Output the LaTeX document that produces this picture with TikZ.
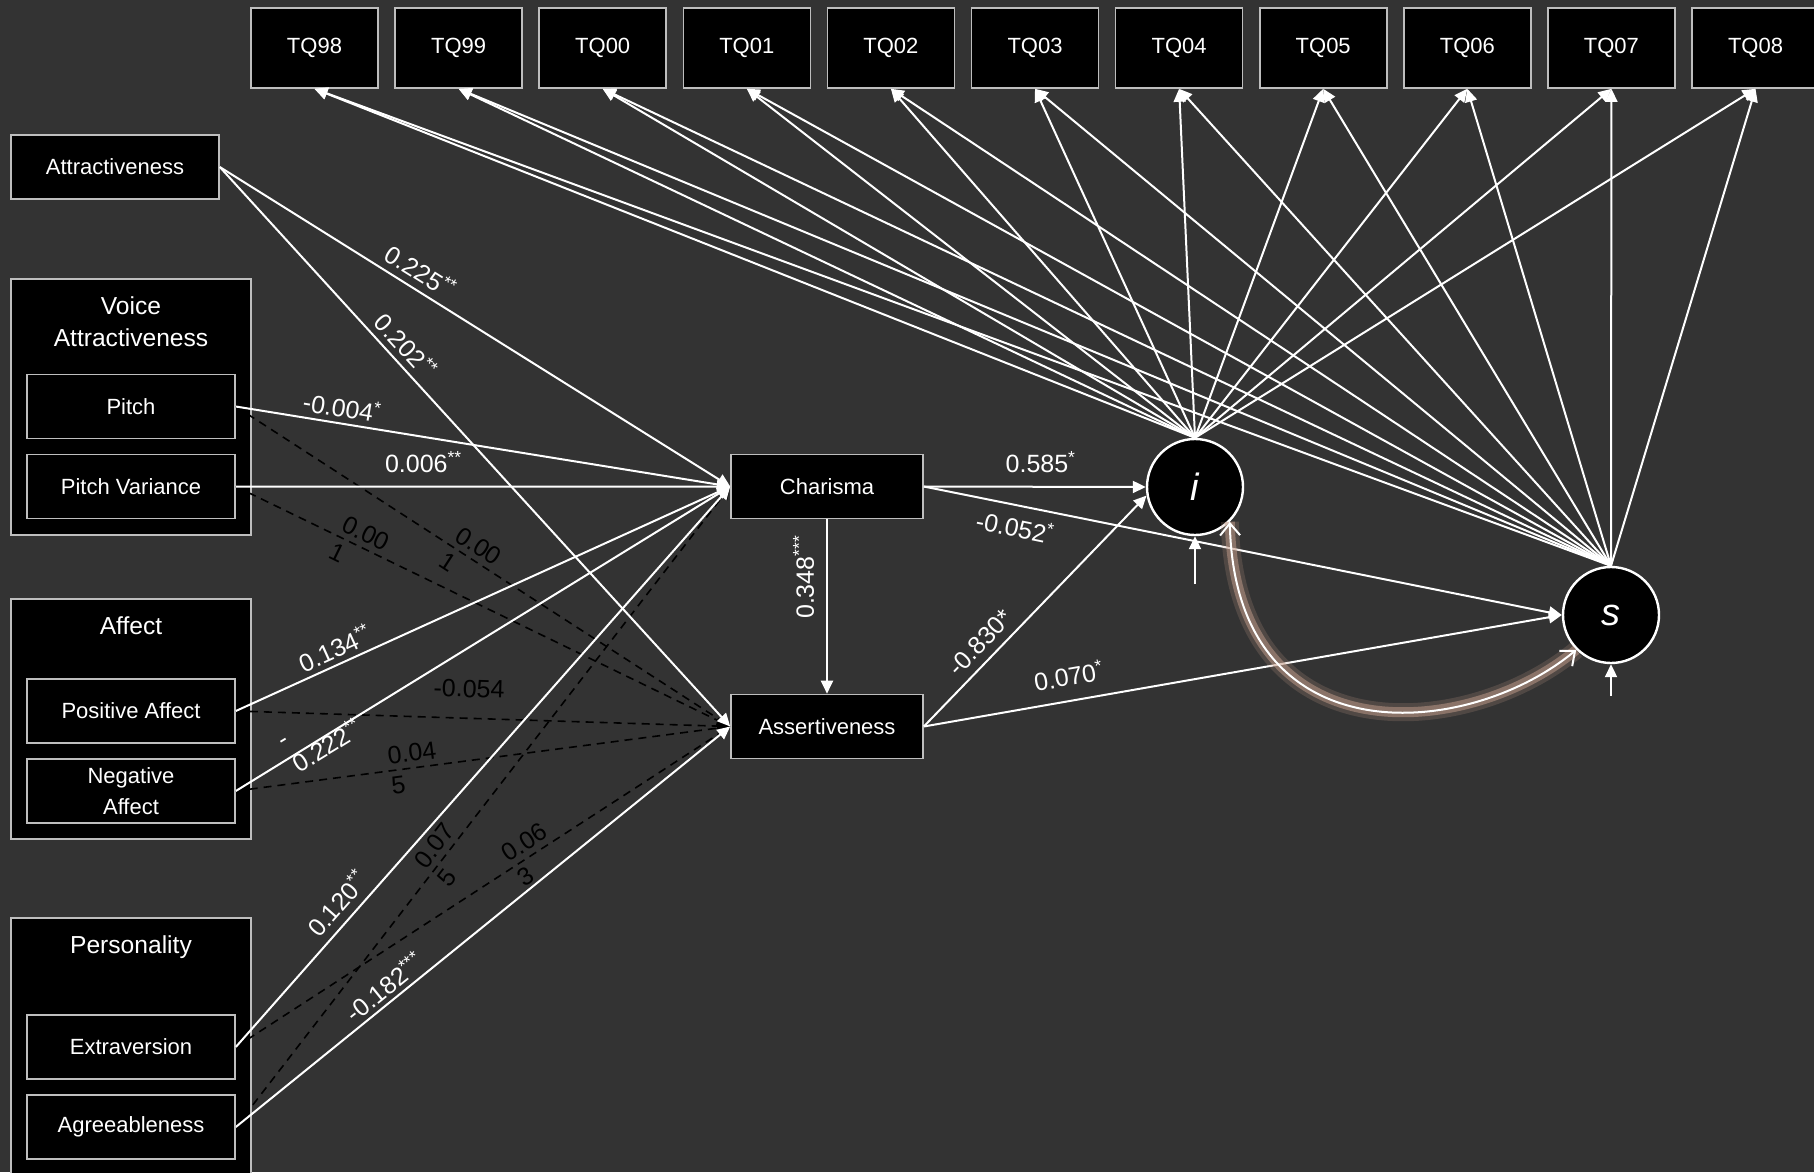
\documentclass[tikz,border=0pt]{standalone}
\usepackage{fontspec}
\setmainfont{Liberation Sans}
\usetikzlibrary{positioning,arrows.meta}

\definecolor{bgc}{RGB}{51,51,51}
\definecolor{framec}{RGB}{190,190,190}
\definecolor{glowc}{RGB}{196,158,140}

\newcommand{\stars}[1]{\textsuperscript{#1}}

\tikzset{
  box/.style={draw=framec, fill=black, text=white, line width=0.8pt,
    minimum width=104pt, minimum height=32pt, inner sep=0pt, align=center,
    font=\fontsize{11}{15.5}\selectfont},
  tq/.style={box, minimum width=63.5pt, minimum height=40pt},
  group/.style={draw=framec, fill=black, line width=0.8pt, minimum width=120pt, inner sep=0pt},
  grouptitle/.style={text=white, align=center, font=\fontsize{12.3}{16}\selectfont},
  latent/.style={circle, draw=white, fill=black, text=white, line width=1.2pt,
    minimum size=48pt, inner sep=0pt, font=\fontsize{19}{19}\selectfont\itshape},
  conn/.style={draw=white, line width=1pt, -{Triangle[length=6.5pt,width=6pt]}},
  nconn/.style={draw=black, line width=0.8pt, dash pattern=on 4pt off 3pt,
    -{Triangle[length=6.5pt,width=6pt]}},
  coef/.style={text=white, sloped, inner sep=2pt, font=\fontsize{12.5}{15}\selectfont},
  ncoef/.style={coef, text=black, align=left},
  vcoef/.style={text=white, rotate=90, anchor=south, inner sep=6pt,
    font=\fontsize{12.5}{15}\selectfont},
}

\begin{document}
\begin{tikzpicture}[x=0.5pt,y=-0.5pt]
  \fill [bgc] (0,0) rectangle (1814,1172);
  \useasboundingbox (0,0) rectangle (1814,1172);

  % indicators
  \node (tq98) [tq] at (314.5,48) {TQ98};
  \node (tq99) [tq] [right=7.75pt of tq98] {TQ99};
  \node (tq00) [tq] [right=7.75pt of tq99] {TQ00};
  \node (tq01) [tq] [right=7.75pt of tq00] {TQ01};
  \node (tq02) [tq] [right=7.75pt of tq01] {TQ02};
  \node (tq03) [tq] [right=7.75pt of tq02] {TQ03};
  \node (tq04) [tq] [right=7.75pt of tq03] {TQ04};
  \node (tq05) [tq] [right=7.75pt of tq04] {TQ05};
  \node (tq06) [tq] [right=7.75pt of tq05] {TQ06};
  \node (tq07) [tq] [right=7.75pt of tq06] {TQ07};
  \node (tq08) [tq] [right=7.75pt of tq07] {TQ08};

  \node (i) [latent] at (1195,487) {i};
  \node (s) [latent] at (1611,615) {s};
  \coordinate [below=24pt of i] (ei);
  \coordinate [below=16pt of s] (es);

  \node (charisma) [box, minimum width=96pt] at (827,486.5) {Charisma};
  \node (assert) [box, minimum width=96pt] [below=87.2pt of charisma] {Assertiveness};

  % predictors
  \node (attr) [box] at (115,167) {Attractiveness};

  \node (voice) [group, minimum height=128pt] at (131,407) {};
  \node (voicetitle) [grouptitle] at (131,322) {Voice\\Attractiveness};
  \node (pitch) [box] at (131,406.5) {Pitch};
  \node (pv) [box] [below=7.2pt of pitch] {Pitch Variance};

  \node (affect) [group, minimum height=120pt] at (131,719) {};
  \node (affecttitle) [grouptitle] at (131,626) {Affect};
  \node (posaff) [box] at (131,711) {Positive Affect};
  \node (negaff) [box] [below=7.2pt of posaff] {Negative\\Affect};

  \node (pers) [group, minimum height=131pt] at (131,1049) {};
  \node (perstitle) [grouptitle] at (131,947) {Personality};
  \node (extra) [box] at (131,1047) {Extraversion};
  \node (agree) [box] [below=7.2pt of extra] {Agreeableness};

  % loadings
  \path (i.north) edge [conn] (tq98.south) edge [conn] (tq99.south)
    edge [conn] (tq00.south) edge [conn] (tq01.south) edge [conn] (tq02.south)
    edge [conn] (tq03.south) edge [conn] (tq04.south) edge [conn] (tq05.south)
    edge [conn] (tq06.south) edge [conn] (tq07.south) edge [conn] (tq08.south);
  \path (s.north) edge [conn] (tq98.south) edge [conn] (tq99.south)
    edge [conn] (tq00.south) edge [conn] (tq01.south) edge [conn] (tq02.south)
    edge [conn] (tq03.south) edge [conn] (tq04.south) edge [conn] (tq05.south)
    edge [conn] (tq06.south) edge [conn] (tq07.south) edge [conn] (tq08.south);

  % n.s. paths
  \path (pitch.east) edge [nconn] node [ncoef, pos=.475] {0.00\\1} (assert.west);
  \path (pv.east) edge [nconn] node [ncoef, pos=.25] {0.00\\1} (assert.west);
  \path (posaff.east) edge [nconn] node [ncoef, above=8pt, pos=.47] {-0.054} (assert.west);
  \path (negaff.east) edge [nconn] node [ncoef, pos=.36] {0.04\\5} (assert.west);
  \path (extra.east) edge [nconn] node [ncoef, pos=.6] {0.06\\3} (assert.west);
  \path (agree.east) edge [nconn] node [ncoef, pos=.425] {0.07\\5} (charisma.west);

  \path (attr.east) edge [conn] node [coef, above=1.5pt, pos=.375] {0.225\stars{**}} (charisma.west)
    edge [conn] node [coef, above=1pt, pos=.34] {0.202\stars{**}} (assert.west);
  \path (pitch.east) edge [conn] node [coef, above=.5pt, pos=.21] {-0.004\stars{*}} (charisma.west);
  \path (pv.east) edge [conn] node [coef, above=4.5pt, pos=.38] {0.006\stars{**}} (charisma.west);
  \path (posaff.east) edge [conn] node [coef, above=.5pt, pos=.214] {0.134\stars{**}} (charisma.west);
  \path (negaff.east) edge [conn] node [coef, align=left, pos=.175] {-\\0.222\stars{**}} (charisma.west);
  \path (extra.east) edge [conn] node [coef, above=2pt, pos=.234] {0.120\stars{**}} (charisma.west);
  \path (agree.east) edge [conn] node [coef, above, pos=.32] {-0.182\stars{***}} (assert.west);

  \path (charisma.east) edge [conn] node [coef, above=4.5pt, pos=.527] {0.585\stars{*}} (i.west)
    edge [conn] node [coef, below=3pt, pos=.15] {-0.052\stars{*}} (s.west);
  \path (charisma.south) edge [conn] node [vcoef, pos=.33] {0.348\stars{***}} (assert.north);
  \path (assert.east) edge [conn] node [coef, above=2pt, pos=.31] {-0.830*} (i.190)
    edge [conn] node [coef, above=5pt, pos=.234] {0.070\stars{*}} (s.west);

  \path (ei) edge [conn] (i.south);
  \path (es) edge [conn] (s.south);

  % covariance i-s
  \draw [glowc, line width=9pt, opacity=.2] (i.-45) .. controls +(5,238) and +(-108,90) .. (s.-135);
  \draw [glowc, line width=5pt, opacity=.5] (i.-45) .. controls +(5,238) and +(-108,90) .. (s.-135);
  \draw [white, line width=1pt, {Straight Barb[length=6pt,width=10pt]}-{Straight Barb[length=6pt,width=10pt]}]
    (i.-45) .. controls +(5,238) and +(-108,90) .. (s.-135);
\end{tikzpicture}
\end{document}
